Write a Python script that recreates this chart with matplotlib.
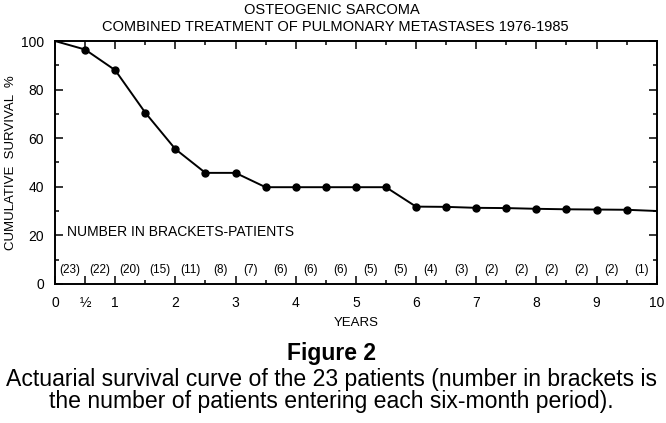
import matplotlib
matplotlib.use("Agg")
import matplotlib.pyplot as plt
import numpy as np
from matplotlib.ticker import MultipleLocator

# Survival, one value every six months
years = np.arange(0, 10.5, 0.5)
survival = [100, 96.5, 88.0, 70.5, 55.5, 45.7, 45.7, 39.8, 39.8, 39.8, 39.8,
            39.8, 31.8, 31.7, 31.3, 31.2, 30.9, 30.7, 30.6, 30.5, 30.0]

# Number of patients entering each six-month period
patients = [23, 22, 20, 15, 11, 8, 7, 6, 6, 6, 5, 5, 4, 3, 2, 2, 2, 2, 2, 1]

xtick_pos = [0, 0.5, 1, 2, 3, 4, 5, 6, 7, 8, 9, 10]
xtick_labels = ["0", "½", "1", "2", "3", "4", "5", "6", "7", "8", "9", "10"]

plt.rcParams["font.family"] = ["Liberation Sans", "DejaVu Sans"]

fig = plt.figure(figsize=(6.66, 4.23), dpi=100)
ax = fig.add_axes([0.0826, 0.329, 0.9034, 0.574])

ax.plot(years, survival, color="black", lw=1.4)
ax.plot(years[1:-1], survival[1:-1], "o", color="black", ms=5)

mids = years[:-1] + 0.25
for x, n in zip(mids, patients):
    ax.text(x, 5.5, f"({n})", ha="center", va="center", fontsize=8.5)

ax.text(0.2, 21.5, "NUMBER IN BRACKETS-PATIENTS", ha="left", va="center", fontsize=10)

ax.set_xlim(0, 10)
ax.set_ylim(0, 100)
ax.set_xticks(xtick_pos)
ax.set_xticklabels(xtick_labels)
ax.xaxis.set_minor_locator(MultipleLocator(0.5))
ax.yaxis.set_major_locator(MultipleLocator(20))
ax.yaxis.set_minor_locator(MultipleLocator(10))
ax.tick_params(which="both", direction="in", top=True, right=True, labelsize=10, width=1.1)
ax.tick_params(which="major", length=6)
ax.tick_params(axis="x", which="major", pad=9)
ax.tick_params(axis="y", which="major", pad=8)
ax.tick_params(which="minor", length=3)
for s in ax.spines.values():
    s.set_linewidth(1.4)

ax.set_xlabel("YEARS", fontsize=9.5, labelpad=5)
ax.set_ylabel("CUMULATIVE  SURVIVAL  %", fontsize=9.5)
ax.yaxis.set_label_coords(-0.063, 0.5)

fig.text(0.499, 0.976, "OSTEOGENIC SARCOMA", ha="center", va="center", fontsize=10.5)
fig.text(0.503, 0.937, "COMBINED TREATMENT OF PULMONARY METASTASES 1976-1985",
         ha="center", va="center", fontsize=10.5)

fig.text(0.498, 0.165, "Figure 2", ha="center", va="center", fontsize=16.5,
         fontweight="bold")
fig.text(0.498, 0.077, "Actuarial survival curve of the 23 patients (number in brackets is\n"
         "the number of patients entering each six-month period).",
         ha="center", va="center", fontsize=16.6, linespacing=0.95)

fig.savefig("out.png", dpi=100)
